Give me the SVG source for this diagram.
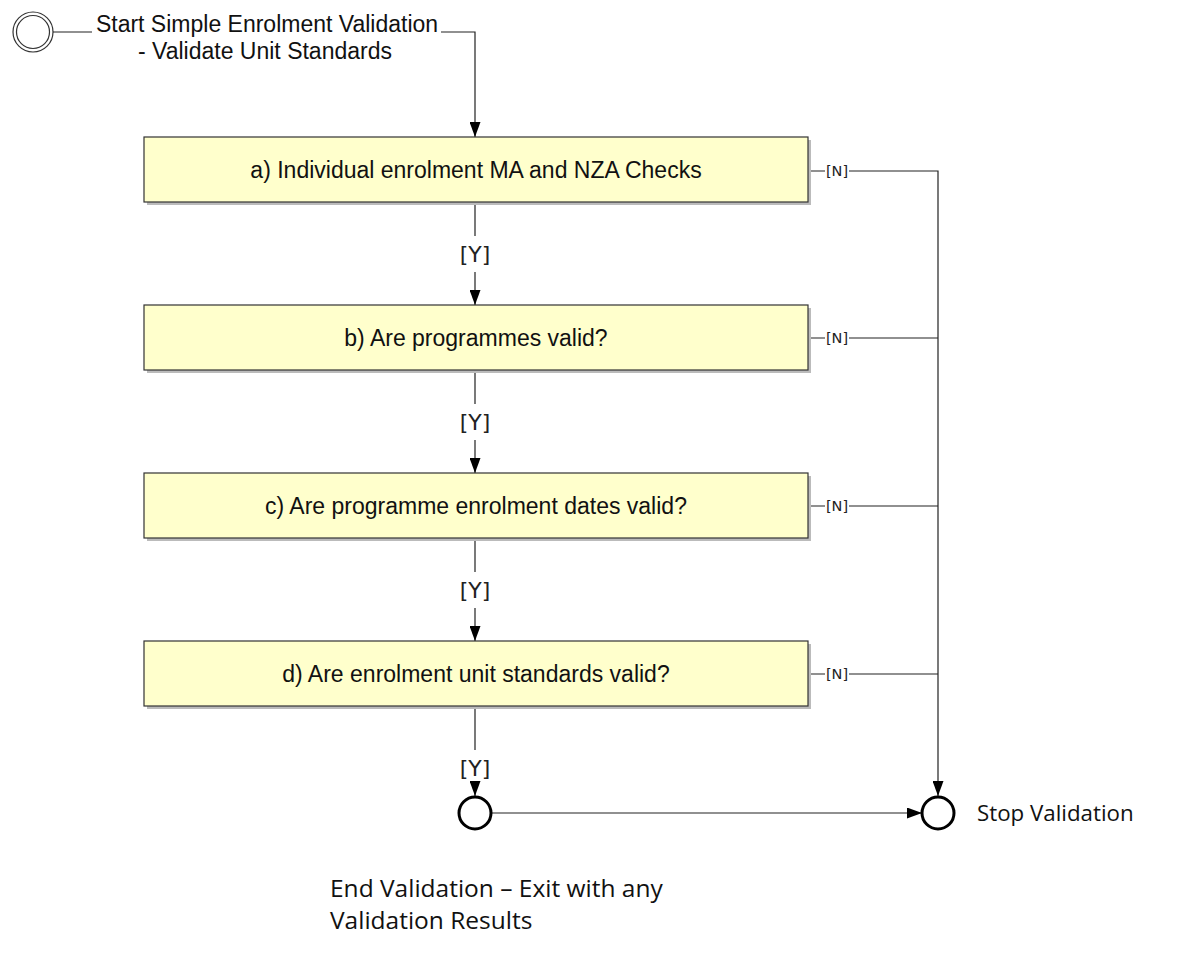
<svg xmlns="http://www.w3.org/2000/svg" width="1189" height="965" viewBox="0 0 1189 965">
<style>
.box{fill:#FFFFCC;stroke:#333;stroke-width:1.2}
.shadow{fill:#bbb}
.bt{font-family:"Liberation Sans",Arial,sans-serif;font-size:23px;fill:#111;text-anchor:middle}
.y{font-family:"DejaVu Sans",sans-serif;font-size:22px;fill:#222;text-anchor:middle}
.n{font-family:"DejaVu Sans",sans-serif;font-size:14.5px;fill:#222;text-anchor:middle}
.c{font-family:"Open Sans","Noto Sans",sans-serif;fill:#111}
.ln{fill:none;stroke:#222;stroke-width:1.2}
.end{fill:#fff;stroke:#000;stroke-width:3}
</style>
<defs>
<marker id="ah" markerWidth="15" markerHeight="11" viewBox="0 0 15 11" refX="15" refY="5.5" orient="auto" markerUnits="userSpaceOnUse">
<path d="M0,0 L15,5.5 L0,11 Z" fill="#000"/>
</marker>
</defs>
<g id="start">
<circle cx="33" cy="32" r="20" fill="#fff" stroke="#333" stroke-width="1.2"/>
<circle cx="33" cy="32" r="16.5" fill="none" stroke="#333" stroke-width="1.2"/>
<text class="bt" x="267" y="32">Start Simple Enrolment Validation</text>
<text class="bt" x="265" y="59">- Validate Unit Standards</text>
</g>
<g id="connectors">
<path class="ln" d="M53,32 H92"/>
<path class="ln" d="M441,32 H475 V137" marker-end="url(#ah)"/>
<path class="ln" d="M475,202 V236 M475,272 V305" marker-end="url(#ah)"/>
<path class="ln" d="M475,370 V404 M475,440 V473" marker-end="url(#ah)"/>
<path class="ln" d="M475,538 V572 M475,608 V641" marker-end="url(#ah)"/>
<path class="ln" d="M475,706 V750 M475,786 V796" marker-end="url(#ah)"/>
<path class="ln" d="M491,813 H922" marker-end="url(#ah)"/>
<path class="ln" d="M808,171 H825 M849,171 H938 V796" marker-end="url(#ah)" stroke-width="1.6"/>
<path class="ln" d="M808,338 H825 M849,338 H938"/>
<path class="ln" d="M808,506 H825 M849,506 H938"/>
<path class="ln" d="M808,674 H825 M849,674 H938"/>
<text class="y" x="475" y="262">[Y]</text>
<text class="y" x="475" y="430">[Y]</text>
<text class="y" x="475" y="598">[Y]</text>
<text class="y" x="475" y="776">[Y]</text>
<text class="n" x="837" y="176">[N]</text>
<text class="n" x="837" y="343">[N]</text>
<text class="n" x="837" y="511">[N]</text>
<text class="n" x="837" y="679">[N]</text>
</g>
<g id="a">
<rect class="shadow" x="147" y="140" width="664" height="65"/>
<rect class="box" x="144" y="137" width="664" height="65"/>
<text class="bt" x="476" y="178">a) Individual enrolment MA and NZA Checks</text>
</g>
<g id="b">
<rect class="shadow" x="147" y="308" width="664" height="65"/>
<rect class="box" x="144" y="305" width="664" height="65"/>
<text class="bt" x="476" y="346">b) Are programmes valid?</text>
</g>
<g id="c">
<rect class="shadow" x="147" y="476" width="664" height="65"/>
<rect class="box" x="144" y="473" width="664" height="65"/>
<text class="bt" x="476" y="514">c) Are programme enrolment dates valid?</text>
</g>
<g id="d">
<rect class="shadow" x="147" y="644" width="664" height="65"/>
<rect class="box" x="144" y="641" width="664" height="65"/>
<text class="bt" x="476" y="682">d) Are enrolment unit standards valid?</text>
</g>
<g id="endValidation">
<circle class="end" cx="475" cy="813" r="16"/>
<text class="c" x="330" y="897" font-size="24.5">End Validation – Exit with any</text>
<text class="c" x="330" y="929" font-size="24.5">Validation Results</text>
</g>
<g id="stopValidation">
<circle class="end" cx="938" cy="813" r="16"/>
<text class="c" x="977" y="821" font-size="22.3">Stop Validation</text>
</g>
</svg>
